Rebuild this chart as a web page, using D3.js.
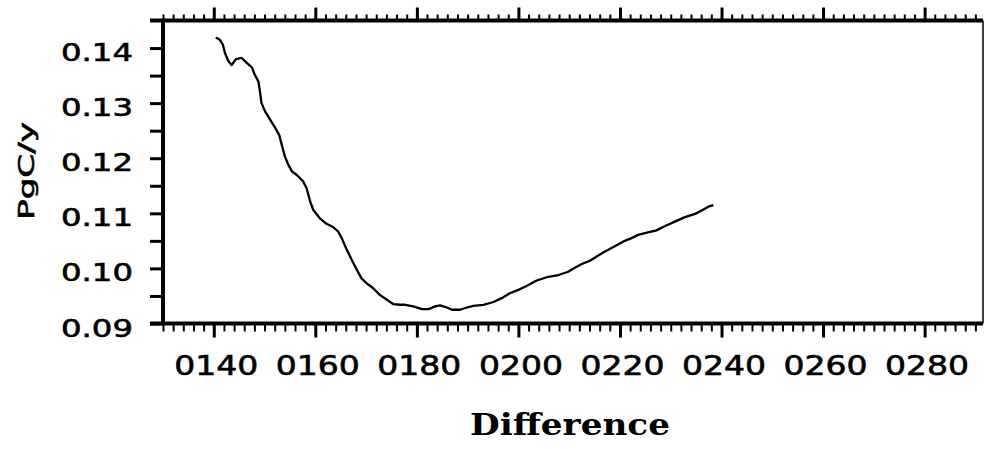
<!DOCTYPE html>
<html>
<head>
<meta charset="utf-8">
<script src="https://cdn.jsdelivr.net/npm/d3@7/dist/d3.min.js"></script>
<style>
  html, body { margin: 0; padding: 0; background: #fff; }
  svg { display: block; }
</style>
</head>
<body>
<svg id="chart" width="986" height="449"></svg>
<script>
// ---- data ----
const diffValues = [140.4,141.2,141.8,142.2,142.9,143.5,144.4,145.5,146.5,147.5,148.1,148.8,149.1,149.4,150.1,151.1,152.1,152.9,153.4,154.0,154.7,155.4,156.3,157.6,158.3,159.0,159.6,160.9,162.2,163.5,164.5,165.2,166.2,167.2,168.2,169.1,170.1,171.4,172.7,174.1,175.4,176.7,177.7,179.3,181.0,182.3,183.6,184.6,185.9,186.9,188.5,189.8,191.1,193.1,195.1,196.7,198.3,200.0,201.6,203.6,205.6,207.9,209.8,211.1,212.5,214.1,216.7,218.7,220.7,222.3,223.6,225.3,227.2,228.9,230.8,232.8,234.8,236.1,237.4,238.4];
const pgcValues  = [0.1419,0.1415,0.1406,0.1391,0.1376,0.1369,0.1380,0.1382,0.1373,0.1365,0.1351,0.1339,0.1321,0.1300,0.1285,0.1270,0.1255,0.1242,0.1224,0.1203,0.1188,0.1176,0.1170,0.1158,0.1145,0.1121,0.1106,0.1091,0.1081,0.1075,0.1067,0.1055,0.1034,0.1015,0.0997,0.0982,0.0973,0.0964,0.0952,0.0943,0.0935,0.0934,0.0934,0.0931,0.0926,0.0926,0.0931,0.0933,0.0929,0.0925,0.0925,0.0929,0.0932,0.0934,0.0939,0.0946,0.0955,0.0961,0.0968,0.0978,0.0984,0.0988,0.0994,0.1001,0.1008,0.1014,0.1029,0.1039,0.1049,0.1055,0.1061,0.1065,0.1069,0.1077,0.1085,0.1093,0.1099,0.1105,0.1112,0.1115];
const xTickValues = [140,160,180,200,220,240,260,280];
const xTickLabels = ["0140","0160","0180","0200","0220","0240","0260","0280"];
const yTickValues = [0.09,0.10,0.11,0.12,0.13,0.14];
const yTickLabels = ["0.09","0.10","0.11","0.12","0.13","0.14"];
const xLabel = "Difference";
const yLabel = "PgC/y";

(function () {
// ---- layout ----
const pL = 163, pR = 983, pT = 20.5, pB = 323.5;
const svg = d3.select("#chart");
const x = d3.scaleLinear().domain([130, 291.5]).range([pL, pR]);
const y = d3.scaleLinear().domain([0.09, 0.145]).range([pB, pT]);

function styleAxis(g, w) {
  g.select(".domain").remove();
  g.selectAll(".tick line").attr("stroke", "#000").attr("stroke-width", w);
  g.selectAll(".tick text").remove();
}
const minorX = d3.range(130, 292, 2);
svg.append("g").attr("transform", `translate(0,${pB})`)
  .call(d3.axisBottom(x).tickValues(minorX).tickSize(8).tickFormat(""))
  .call(g => styleAxis(g, 2));
svg.append("g").attr("transform", `translate(0,${pB})`)
  .call(d3.axisBottom(x).tickValues(xTickValues).tickSize(14).tickFormat(""))
  .call(g => styleAxis(g, 3));
svg.append("g").attr("transform", `translate(0,${pT})`)
  .call(d3.axisTop(x).tickValues(minorX).tickSize(6).tickFormat(""))
  .call(g => styleAxis(g, 2));
svg.append("g").attr("transform", `translate(0,${pT})`)
  .call(d3.axisTop(x).tickValues(xTickValues).tickSize(13).tickFormat(""))
  .call(g => styleAxis(g, 3));
const minorY = d3.range(0, 11).map(i => 0.09 + i * 0.005);
svg.append("g").attr("transform", `translate(${pL},0)`)
  .call(d3.axisLeft(y).tickValues(minorY).tickSize(13).tickFormat(""))
  .call(g => styleAxis(g, 3));

// frame lines
svg.append("line").attr("x1", 150).attr("x2", pR).attr("y1", pB).attr("y2", pB)
  .attr("stroke", "#000").attr("stroke-width", 4);
svg.append("line").attr("x1", 150).attr("x2", pR).attr("y1", pT).attr("y2", pT)
  .attr("stroke", "#000").attr("stroke-width", 4);
svg.append("line").attr("x1", pL).attr("x2", pL).attr("y1", pT).attr("y2", pB)
  .attr("stroke", "#000").attr("stroke-width", 4);
svg.append("line").attr("x1", pR).attr("x2", pR).attr("y1", pT).attr("y2", pB)
  .attr("stroke", "#000").attr("stroke-width", 1.5);

// tick labels
svg.append("g").selectAll("text").data(xTickValues).join("text")
  .attr("x", d => x(d) + 2.5).attr("y", 375)
  .attr("text-anchor", "middle")
  .attr("font-family", "DejaVu Sans").attr("font-size", 27)
  .attr("stroke", "#000").attr("stroke-width", 0.6)
  .attr("textLength", 84).attr("lengthAdjust", "spacingAndGlyphs")
  .text((d, i) => xTickLabels[i]);
svg.append("g").selectAll("text").data(yTickValues).join("text")
  .attr("x", 133).attr("y", d => y(d) + 13)
  .attr("text-anchor", "end")
  .attr("font-family", "DejaVu Sans").attr("font-size", 25)
  .attr("stroke", "#000").attr("stroke-width", 0.6)
  .attr("textLength", 72).attr("lengthAdjust", "spacingAndGlyphs")
  .text((d, i) => yTickLabels[i]);

// axis titles
svg.append("text").attr("x", 570).attr("y", 435).attr("text-anchor", "middle")
  .attr("font-family", "DejaVu Serif").attr("font-weight", "bold").attr("font-size", 30)
  .attr("textLength", 200).attr("lengthAdjust", "spacingAndGlyphs")
  .text(xLabel);
svg.append("text").attr("transform", "translate(34,171) rotate(-90)")
  .attr("text-anchor", "middle")
  .attr("font-family", "DejaVu Sans").attr("font-size", 22)
  .attr("stroke", "#000").attr("stroke-width", 0.6)
  .attr("textLength", 98).attr("lengthAdjust", "spacingAndGlyphs")
  .text(yLabel);

// data line
const pts = diffValues.map((d, i) => [d, pgcValues[i]]);
svg.append("path").datum(pts)
  .attr("fill", "none").attr("stroke", "#000").attr("stroke-width", 2.3)
  .attr("stroke-linejoin", "round")
  .attr("d", d3.line().x(d => x(d[0])).y(d => y(d[1])));
})();
</script>
</body>
</html>
